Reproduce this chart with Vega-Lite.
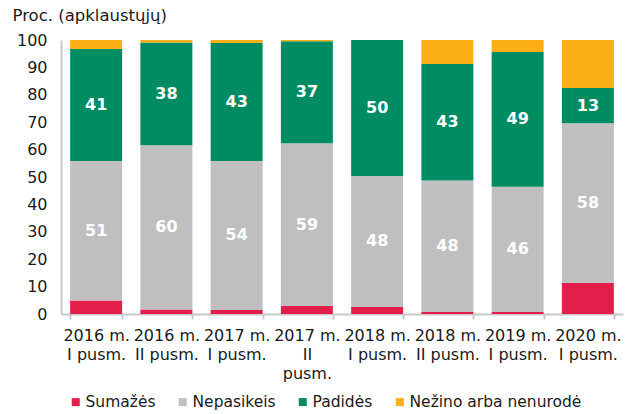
{
  "$schema": "https://vega.github.io/schema/vega-lite/v6.json",
  "autosize": {"type": "none"},
  "width": 562,
  "height": 274,
  "padding": {"left": 61, "top": 40, "right": 9, "bottom": 100},
  "background": "white",
  "config": {
    "view": {"stroke": null},
    "font": "DejaVu Sans",
    "axis": {"labelFont": "DejaVu Sans", "titleFont": "DejaVu Sans"},
    "legend": {"labelFont": "DejaVu Sans"}
  },
  "resolve": {"axis": {"y": "independent"}},
  "data": {
    "values": [
      {"period": "2016 m.|I pusm.", "category": "Sumažės", "k": 1, "value": 4.9, "label": "5"},
      {"period": "2016 m.|I pusm.", "category": "Nepasikeis", "k": 2, "value": 50.9, "label": "51"},
      {"period": "2016 m.|I pusm.", "category": "Padidės", "k": 3, "value": 40.9, "label": "41"},
      {"period": "2016 m.|I pusm.", "category": "Nežino arba nenurodė", "k": 4, "value": 3.3, "label": "3"},
      {"period": "2016 m.|II pusm.", "category": "Sumažės", "k": 1, "value": 1.6, "label": "2"},
      {"period": "2016 m.|II pusm.", "category": "Nepasikeis", "k": 2, "value": 60.0, "label": "60"},
      {"period": "2016 m.|II pusm.", "category": "Padidės", "k": 3, "value": 37.5, "label": "38"},
      {"period": "2016 m.|II pusm.", "category": "Nežino arba nenurodė", "k": 4, "value": 0.9, "label": "1"},
      {"period": "2017 m.|I pusm.", "category": "Sumažės", "k": 1, "value": 1.5, "label": "2"},
      {"period": "2017 m.|I pusm.", "category": "Nepasikeis", "k": 2, "value": 54.3, "label": "54"},
      {"period": "2017 m.|I pusm.", "category": "Padidės", "k": 3, "value": 43.1, "label": "43"},
      {"period": "2017 m.|I pusm.", "category": "Nežino arba nenurodė", "k": 4, "value": 1.1, "label": "1"},
      {"period": "2017 m.|II|pusm.", "category": "Sumažės", "k": 1, "value": 2.9, "label": "3"},
      {"period": "2017 m.|II|pusm.", "category": "Nepasikeis", "k": 2, "value": 59.4, "label": "59"},
      {"period": "2017 m.|II|pusm.", "category": "Padidės", "k": 3, "value": 37.2, "label": "37"},
      {"period": "2017 m.|II|pusm.", "category": "Nežino arba nenurodė", "k": 4, "value": 0.5, "label": "0"},
      {"period": "2018 m.|I pusm.", "category": "Sumažės", "k": 1, "value": 2.6, "label": "3"},
      {"period": "2018 m.|I pusm.", "category": "Nepasikeis", "k": 2, "value": 47.8, "label": "48"},
      {"period": "2018 m.|I pusm.", "category": "Padidės", "k": 3, "value": 49.6, "label": "50"},
      {"period": "2018 m.|I pusm.", "category": "Nežino arba nenurodė", "k": 4, "value": 0.0, "label": "0"},
      {"period": "2018 m.|II pusm.", "category": "Sumažės", "k": 1, "value": 0.7, "label": "1"},
      {"period": "2018 m.|II pusm.", "category": "Nepasikeis", "k": 2, "value": 48.0, "label": "48"},
      {"period": "2018 m.|II pusm.", "category": "Padidės", "k": 3, "value": 42.5, "label": "43"},
      {"period": "2018 m.|II pusm.", "category": "Nežino arba nenurodė", "k": 4, "value": 8.8, "label": "9"},
      {"period": "2019 m.|I pusm.", "category": "Sumažės", "k": 1, "value": 0.7, "label": "1"},
      {"period": "2019 m.|I pusm.", "category": "Nepasikeis", "k": 2, "value": 45.7, "label": "46"},
      {"period": "2019 m.|I pusm.", "category": "Padidės", "k": 3, "value": 49.2, "label": "49"},
      {"period": "2019 m.|I pusm.", "category": "Nežino arba nenurodė", "k": 4, "value": 4.4, "label": "4"},
      {"period": "2020 m.|I pusm.", "category": "Sumažės", "k": 1, "value": 11.4, "label": "11"},
      {"period": "2020 m.|I pusm.", "category": "Nepasikeis", "k": 2, "value": 58.2, "label": "58"},
      {"period": "2020 m.|I pusm.", "category": "Padidės", "k": 3, "value": 12.9, "label": "13"},
      {"period": "2020 m.|I pusm.", "category": "Nežino arba nenurodė", "k": 4, "value": 17.5, "label": "17"}
    ]
  },
  "encoding": {
    "x": {
      "field": "period",
      "type": "nominal",
      "sort": null,
      "scale": {"paddingInner": 0.26, "paddingOuter": 0.13},
      "axis": {
        "title": null,
        "labelAngle": 0,
        "labelExpr": "split(datum.label, '|')",
        "labelFontSize": 16,
        "labelColor": "#1a1a1a",
        "labelLineHeight": 19,
        "labelPadding": 8,
        "labelBaseline": "top",
        "ticks": true,
        "tickBand": "extent",
        "tickSize": 5,
        "tickColor": "#c8c8c8",
        "tickWidth": 2,
        "domainColor": "#c8c8c8",
        "domainWidth": 2
      }
    }
  },
  "layer": [
    {
      "mark": {"type": "bar"},
      "encoding": {
        "y": {
          "field": "value",
          "type": "quantitative",
          "stack": "zero",
          "scale": {"domain": [0, 100], "nice": false},
          "axis": {
            "title": "Proc. (apklaustųjų)",
            "titleAngle": 0,
            "titleAlign": "left",
            "titleBaseline": "alphabetic",
            "titleX": -49,
            "titleY": -20,
            "titleFontSize": 16.5,
            "titleFontWeight": "normal",
            "titleColor": "#1a1a1a",
            "values": [0, 10, 20, 30, 40, 50, 60, 70, 80, 90, 100],
            "labelOverlap": false,
            "grid": false,
            "ticks": false,
            "labelPadding": 14,
            "labelFontSize": 16,
            "labelColor": "#1a1a1a",
            "domainColor": "#c8c8c8",
            "domainWidth": 2
          }
        },
        "color": {
          "field": "category",
          "type": "nominal",
          "sort": ["Sumažės", "Nepasikeis", "Padidės", "Nežino arba nenurodė"],
          "scale": {
            "domain": ["Sumažės", "Nepasikeis", "Padidės", "Nežino arba nenurodė"],
            "range": ["#e31e4a", "#bfbfbf", "#008c62", "#fcaf17"]
          },
          "legend": {
            "title": null,
            "orient": "none",
            "direction": "horizontal",
            "legendX": 7,
            "legendY": 354,
            "symbolType": "square",
            "symbolSize": 64,
            "symbolStrokeWidth": 0,
            "labelFontSize": 15.5,
            "labelLimit": 0,
            "labelColor": "#1a1a1a",
            "columnPadding": 19,
            "labelOffset": 2
          }
        },
        "order": {"field": "k", "type": "quantitative"}
      }
    },
    {
      "mark": {"type": "text", "color": "white", "fontWeight": "bold", "fontSize": 16, "baseline": "middle"},
      "encoding": {
        "y": {
          "field": "value",
          "type": "quantitative",
          "stack": "zero",
          "bandPosition": 0.5,
          "axis": null
        },
        "detail": {"field": "category", "type": "nominal"},
        "order": {"field": "k", "type": "quantitative"},
        "text": {
          "condition": {"test": "datum.category === 'Nepasikeis' || datum.category === 'Padidės'", "field": "label"},
          "value": ""
        }
      }
    }
  ]
}
